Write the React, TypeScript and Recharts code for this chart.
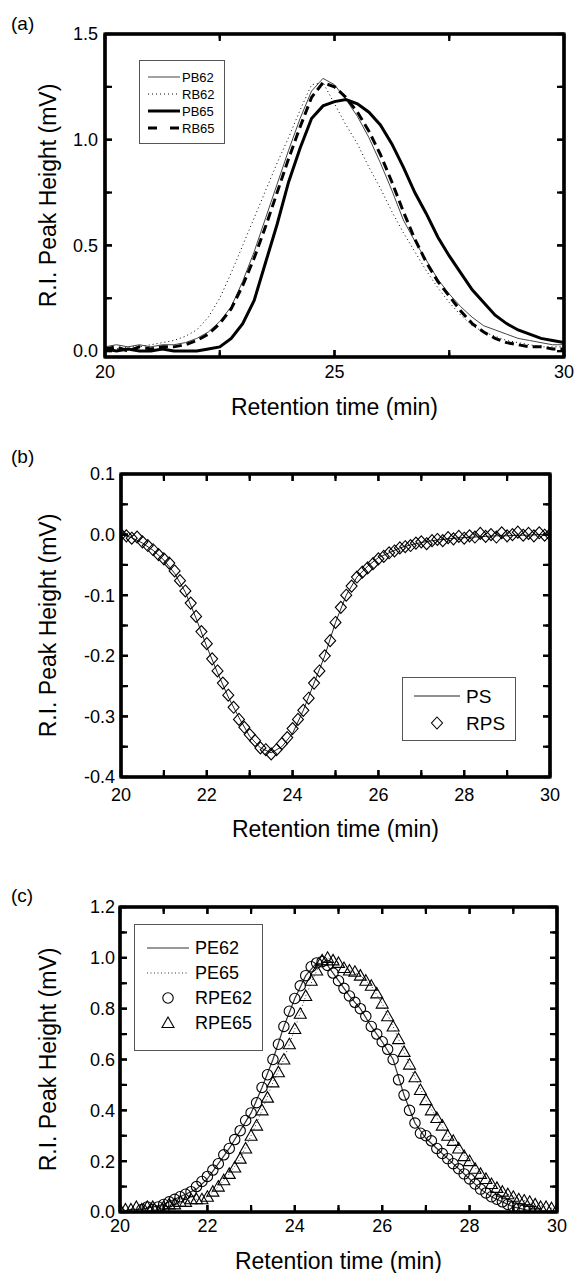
import { ComposedChart, Legend, Line, Scatter, XAxis, YAxis } from "recharts";

const FONT = '"Liberation Sans", Arial, Helvetica, sans-serif';

// retention time grids (min)
const timeQ = [
  20, 20.25, 20.5, 20.75, 21, 21.25, 21.5, 21.75,
  22, 22.25, 22.5, 22.75, 23, 23.25, 23.5, 23.75,
  24, 24.25, 24.5, 24.75, 25, 25.25, 25.5, 25.75,
  26, 26.25, 26.5, 26.75, 27, 27.25, 27.5, 27.75,
  28, 28.25, 28.5, 28.75, 29, 29.25, 29.5, 29.75,
  30,
];
const timeE = [
  20, 20.125, 20.25, 20.375, 20.5, 20.625, 20.75, 20.875,
  21, 21.125, 21.25, 21.375, 21.5, 21.625, 21.75, 21.875,
  22, 22.125, 22.25, 22.375, 22.5, 22.625, 22.75, 22.875,
  23, 23.125, 23.25, 23.375, 23.5, 23.625, 23.75, 23.875,
  24, 24.125, 24.25, 24.375, 24.5, 24.625, 24.75, 24.875,
  25, 25.125, 25.25, 25.375, 25.5, 25.625, 25.75, 25.875,
  26, 26.125, 26.25, 26.375, 26.5, 26.625, 26.75, 26.875,
  27, 27.125, 27.25, 27.375, 27.5, 27.625, 27.75, 27.875,
  28, 28.125, 28.25, 28.375, 28.5, 28.625, 28.75, 28.875,
  29, 29.125, 29.25, 29.375, 29.5, 29.625, 29.75, 29.875,
  30,
];

// (a) PB / RB
const pb62 = [
  0.02, 0.03, 0.02, 0.03, 0.02, 0.03, 0.03, 0.04,
  0.06, 0.09, 0.14, 0.21, 0.33, 0.47, 0.63, 0.79,
  0.95, 1.1, 1.23, 1.29, 1.26, 1.19, 1.11, 1.01,
  0.89, 0.76, 0.62, 0.52, 0.43, 0.34, 0.27, 0.21,
  0.16, 0.12, 0.1, 0.08, 0.06, 0.05, 0.04, 0.03,
  0.03,
];
const rb62 = [
  0.01, 0.01, 0.02, 0.02, 0.03, 0.04, 0.05, 0.07,
  0.1, 0.16, 0.25, 0.37, 0.5, 0.63, 0.76, 0.89,
  1.01, 1.14, 1.26, 1.27, 1.17, 1.07, 0.98, 0.87,
  0.77, 0.66, 0.56, 0.47, 0.38, 0.3, 0.23, 0.17,
  0.12, 0.09, 0.07, 0.05, 0.04, 0.03, 0.02, 0.02,
  0.02,
];
const pb65 = [
  0.01, 0.0, 0.01, 0.0, 0.0, 0.01, 0.0, 0.0,
  0.0, 0.01, 0.02, 0.06, 0.13, 0.24, 0.42, 0.6,
  0.8, 0.96, 1.1, 1.16, 1.18, 1.19, 1.17, 1.13,
  1.07, 0.98, 0.87, 0.75, 0.65, 0.54, 0.45, 0.37,
  0.29, 0.23, 0.17, 0.13, 0.1, 0.08, 0.06, 0.05,
  0.04,
];
const rb65 = [
  0.01, 0.02, 0.0, 0.02, 0.01, 0.02, 0.02, 0.03,
  0.05, 0.08, 0.13, 0.2, 0.31, 0.44, 0.59, 0.75,
  0.91, 1.06, 1.2, 1.27, 1.25, 1.2, 1.13, 1.04,
  0.93, 0.8, 0.66, 0.53, 0.42, 0.33, 0.26, 0.19,
  0.13, 0.09, 0.06, 0.04, 0.03, 0.02, 0.02, 0.01,
  0.01,
];

// (b) PS / RPS
const ps = [
  0.0, -0.005, -0.014, -0.026, -0.042, -0.064, -0.095, -0.138,
  -0.185, -0.228, -0.268, -0.302, -0.333, -0.352, -0.36, -0.35,
  -0.328, -0.29, -0.245, -0.2, -0.145, -0.1, -0.07, -0.052,
  -0.038, -0.03, -0.022, -0.017, -0.013, -0.01, -0.008, -0.006,
  -0.005, -0.004, -0.003, -0.002, -0.002, -0.001, -0.001, 0.0,
  0.0,
];
const rps = [
  0.0, -0.002, -0.006, -0.004, -0.012, -0.018, -0.025, -0.033,
  -0.04, -0.047, -0.06, -0.076, -0.093, -0.113, -0.135, -0.16,
  -0.18, -0.205, -0.225, -0.245, -0.265, -0.285, -0.305, -0.318,
  -0.33, -0.34, -0.352, -0.355, -0.362, -0.355, -0.345, -0.335,
  -0.32, -0.305, -0.29, -0.27, -0.245, -0.225, -0.2, -0.175,
  -0.145, -0.12, -0.1, -0.085, -0.07, -0.062, -0.055, -0.048,
  -0.04, -0.036, -0.03, -0.027, -0.022, -0.02, -0.018, -0.014,
  -0.012, -0.015, -0.01, -0.008, -0.01, -0.005, -0.007, -0.003,
  -0.006, -0.002, -0.004, 0.002, -0.003, 0.0, -0.004, 0.003,
  -0.002, 0.0, 0.004, -0.001, 0.002, -0.002, 0.003, -0.001,
  0.0,
];

// (c) PE / RPE
const pe62 = [
  0.0, 0.01, 0.01, 0.02, 0.03, 0.05, 0.07, 0.09,
  0.13, 0.19, 0.25, 0.32, 0.39, 0.49, 0.6, 0.73,
  0.84, 0.93, 0.98, 0.97, 0.91, 0.85, 0.8, 0.73,
  0.67, 0.6, 0.46, 0.35, 0.29, 0.25, 0.21, 0.17,
  0.13, 0.09, 0.06, 0.04, 0.02, 0.01, 0.0, 0.0,
  0.0,
];
const pe65 = [
  0.01, 0.01, 0.01, 0.02, 0.02, 0.03, 0.04, 0.05,
  0.06, 0.1, 0.15, 0.21, 0.3, 0.4, 0.51, 0.6,
  0.72, 0.85, 0.95, 1.0, 0.98, 0.95, 0.93, 0.89,
  0.82, 0.73, 0.63, 0.53, 0.44, 0.37, 0.3, 0.25,
  0.2, 0.15, 0.11, 0.08, 0.06, 0.045, 0.03, 0.02,
  0.01,
];
const rpe62 = [
  null, null, null, null, 0.01, 0.02, 0.01, 0.02,
  0.03, 0.04, 0.05, 0.06, 0.07, 0.08, 0.1, 0.12,
  0.14, 0.165, 0.19, 0.225, 0.25, 0.285, 0.32, 0.36,
  0.39, 0.43, 0.49, 0.54, 0.6, 0.66, 0.73, 0.79,
  0.84, 0.89, 0.93, 0.965, 0.98, 0.985, 0.97, 0.94,
  0.91, 0.88, 0.85, 0.825, 0.8, 0.77, 0.73, 0.7,
  0.67, 0.64, 0.6, 0.52, 0.46, 0.4, 0.35, 0.31,
  0.3, 0.28, 0.25, 0.23, 0.21, 0.19, 0.17, 0.15,
  0.13, 0.11, 0.09, 0.075, 0.06, 0.05, 0.04, 0.03,
  0.02, 0.015, 0.01, 0.01, 0.0, null, null, null,
  null,
];
const rpe65 = [
  0.01, 0.01, 0.01, 0.02, 0.01, 0.02, 0.02, 0.0,
  0.02, 0.03, 0.03, 0.04, 0.04, 0.05, 0.05, 0.05,
  0.06, 0.08, 0.1, 0.125, 0.15, 0.175, 0.21, 0.25,
  0.3, 0.34, 0.4, 0.45, 0.51, 0.55, 0.6, 0.66,
  0.72, 0.78, 0.85, 0.91, 0.95, 0.99, 1.0, 0.99,
  0.98, 0.96, 0.95, 0.945, 0.93, 0.91, 0.89, 0.86,
  0.82, 0.77, 0.73, 0.68, 0.63, 0.58, 0.53, 0.48,
  0.44, 0.4, 0.37, 0.34, 0.3, 0.28, 0.25, 0.22,
  0.2, 0.17, 0.15, 0.13, 0.11, 0.095, 0.08, 0.07,
  0.06, 0.05, 0.045, 0.04, 0.03, 0.02, 0.02, 0.015,
  0.01,
];

// ticks
const xTicksA = [20, 22.5, 25, 27.5, 30];
const xMajorA = [20, 25, 30];
const yTicksA = [0, 0.25, 0.5, 0.75, 1, 1.25, 1.5];
const yMajorA = [0, 0.5, 1, 1.5];
const xTicksBC = [20, 21, 22, 23, 24, 25, 26, 27, 28, 29, 30];
const xMajorBC = [20, 22, 24, 26, 28, 30];
const yTicksB = [-0.4, -0.35, -0.3, -0.25, -0.2, -0.15, -0.1, -0.05, 0, 0.05, 0.1];
const yMajorB = [-0.4, -0.3, -0.2, -0.1, 0, 0.1];
const yTicksC = [0, 0.1, 0.2, 0.3, 0.4, 0.5, 0.6, 0.7, 0.8, 0.9, 1, 1.1, 1.2];
const yMajorC = [0, 0.2, 0.4, 0.6, 0.8, 1, 1.2];

type Pt = { t: number; v: number };
const toRows = (time: number[], vals: (number | null)[]): Pt[] =>
  time.flatMap((t, i) => (vals[i] == null ? [] : [{ t, v: vals[i] as number }]));

const isMajor = (v: number, major: number[]) => major.some((m) => Math.abs(m - v) < 1e-6);
const fmtInt = (v: number) => String(Math.round(v));
const fmt1 = (v: number) => (Math.abs(v) < 1e-9 ? "0.0" : v.toFixed(1));

const X_DOMAIN: [number, number] = [20, 30];
const TICK_LEN = 7;
const FRAME = { stroke: "#000", strokeWidth: 3.2 };
const TICK = { stroke: "#000", strokeWidth: 2.2 };

function labelTick(side: "bottom" | "left", major: number[], fmt: (v: number) => string) {
  return (props: any) => {
    const { x, y, payload } = props;
    const v = Number(payload.value);
    if (!isMajor(v, major)) return <g />;
    if (side === "bottom") {
      return (
        <text x={x} y={y} dy="0.71em" textAnchor="middle" fontSize={18} fill="#000" fontFamily={FONT}>
          {fmt(v)}
        </text>
      );
    }
    return (
      <text x={x} y={y} dy="0.355em" textAnchor="end" fontSize={18} fill="#000" fontFamily={FONT}>
        {fmt(v)}
      </text>
    );
  };
}
const noLabel = () => <g />;

const yTitle = (cx: number, cy: number) => () => (
  <text
    x={cx}
    y={cy}
    dy="0.355em"
    transform={`rotate(-90 ${cx} ${cy})`}
    textAnchor="middle"
    fontSize={23}
    fill="#000"
    fontFamily={FONT}
  >
    R.I. Peak Height (mV)
  </text>
);
const xTitle = (cx: number, baseline: number) => () => (
  <text x={cx} y={baseline} textAnchor="middle" fontSize={23} fill="#000" fontFamily={FONT}>
    Retention time (min)
  </text>
);

// marker shapes
const diamond = (p: any) => (
  <path
    d={`M${p.cx},${p.cy - 6}L${p.cx + 5.5},${p.cy}L${p.cx},${p.cy + 6}L${p.cx - 5.5},${p.cy}Z`}
    fill="none"
    stroke="#000"
    strokeWidth={1.1}
  />
);
const circle = (p: any) => <circle cx={p.cx} cy={p.cy} r={5.2} fill="none" stroke="#000" strokeWidth={1.1} />;
const triangle = (p: any) => (
  <path
    d={`M${p.cx},${p.cy - 6}L${p.cx + 6},${p.cy + 4.5}L${p.cx - 6},${p.cy + 4.5}Z`}
    fill="none"
    stroke="#000"
    strokeWidth={1.1}
  />
);

type LStyle = { name: string; stroke?: string; width?: number; dash?: string; mark?: (p: any) => JSX.Element };
const legendA: LStyle[] = [
  { name: "PB62", stroke: "#444", width: 1 },
  { name: "RB62", stroke: "#000", width: 1, dash: "1 3" },
  { name: "PB65", stroke: "#000", width: 3 },
  { name: "RB65", stroke: "#000", width: 3.2, dash: "9 13" },
];
const legendB: LStyle[] = [
  { name: "PS", stroke: "#222", width: 1 },
  { name: "RPS", mark: diamond },
];
const legendC: LStyle[] = [
  { name: "PE62", stroke: "#333", width: 1.2 },
  { name: "PE65", stroke: "#333", width: 1, dash: "1 2.5" },
  { name: "RPE62", mark: circle },
  { name: "RPE65", mark: triangle },
];

function LegendBox(props: {
  items: LStyle[];
  w: number;
  h: number;
  first: number;
  step: number;
  lineX: [number, number];
  textX: number;
  fontSize: number;
}) {
  const { items, w, h, first, step, lineX, textX, fontSize } = props;
  return (
    <svg width={w} height={h} style={{ display: "block" }}>
      <rect x={0.5} y={0.5} width={w - 1} height={h - 1} fill="#fff" stroke="#555" strokeWidth={1} />
      {items.map((it, i) => {
        const cy = first + i * step;
        const mid = (lineX[0] + lineX[1]) / 2;
        return (
          <g key={it.name}>
            {it.mark ? (
              it.mark({ cx: mid, cy })
            ) : (
              <line
                x1={lineX[0]}
                x2={lineX[1]}
                y1={cy}
                y2={cy}
                stroke={it.stroke}
                strokeWidth={it.width}
                strokeDasharray={it.dash}
              />
            )}
            <text x={textX} y={cy} dy="0.355em" fontSize={fontSize} fill="#000" fontFamily={FONT}>
              {it.name}
            </text>
          </g>
        );
      })}
    </svg>
  );
}

type Margin = { top: number; right: number; bottom: number; left: number };
const TOP_AXIS_H = 20;
const RIGHT_AXIS_W = 10;
const BOTTOM_AXIS_H = 30;
const LEFT_AXIS_W = 60;

// plot-box frame with inward ticks on all four sides, laid over the chart
function FrameOverlay(p: {
  width: number;
  height: number;
  margin: Margin;
  xTicks: number[];
  xMajor: number[];
  yTicks: number[];
  yMajor: number[];
  yDomain: [number, number];
}) {
  const left = p.margin.left + LEFT_AXIS_W;
  const right = p.width - p.margin.right - RIGHT_AXIS_W;
  const top = p.margin.top + TOP_AXIS_H;
  const bottom = p.height - p.margin.bottom - BOTTOM_AXIS_H;
  const sx = (t: number) => left + ((t - X_DOMAIN[0]) / (X_DOMAIN[1] - X_DOMAIN[0])) * (right - left);
  const sy = (v: number) => bottom - ((v - p.yDomain[0]) / (p.yDomain[1] - p.yDomain[0])) * (bottom - top);
  return (
    <svg
      width={p.width}
      height={p.height}
      style={{ position: "absolute", left: 0, top: 0, pointerEvents: "none" }}
    >
      {p.xTicks.map((t) => {
        const len = isMajor(t, p.xMajor) ? 7 : 4.5;
        const x = sx(t);
        return (
          <g key={`x${t}`}>
            <line x1={x} x2={x} y1={bottom} y2={bottom - len} {...TICK} />
            <line x1={x} x2={x} y1={top} y2={top + len} {...TICK} />
          </g>
        );
      })}
      {p.yTicks.map((v) => {
        const len = isMajor(v, p.yMajor) ? 7 : 4.5;
        const y = sy(v);
        return (
          <g key={`y${v}`}>
            <line x1={left} x2={left + len} y1={y} y2={y} {...TICK} />
            <line x1={right} x2={right - len} y1={y} y2={y} {...TICK} />
          </g>
        );
      })}
      <rect x={left} y={top} width={right - left} height={bottom - top} fill="none" {...FRAME} />
    </svg>
  );
}

type PanelProps = {
  letter: string;
  letterTop: number;
  height: number;
  margin: Margin;
  xTicks: number[];
  xMajor: number[];
  yTicks: number[];
  yMajor: number[];
  yDomain: [number, number];
  xGap: number;
  yGap: number;
  yTitleAt: [number, number];
  xTitleAt: [number, number];
  children: React.ReactNode;
};

function Panel(p: PanelProps) {
  return (
    <div style={{ position: "relative", width: 576, height: p.height }}>
      <div
        style={{
          position: "absolute",
          left: 11,
          top: p.letterTop,
          fontSize: 19,
          lineHeight: "19px",
          fontFamily: FONT,
          color: "#000",
        }}
      >
        {p.letter}
      </div>
      <ComposedChart width={576} height={p.height} margin={p.margin}>
        <XAxis
          type="number"
          dataKey="t"
          domain={X_DOMAIN}
          ticks={p.xTicks}
          interval={0}
          allowDataOverflow
          height={BOTTOM_AXIS_H}
          tickSize={-TICK_LEN}
          tickMargin={p.xGap + TICK_LEN}
          tickLine={TICK}
          axisLine={FRAME}
          tick={labelTick("bottom", p.xMajor, fmtInt)}
          label={xTitle(p.xTitleAt[0], p.xTitleAt[1])}
        />
        <XAxis
          xAxisId="top"
          orientation="top"
          type="number"
          dataKey="t"
          domain={X_DOMAIN}
          ticks={p.xTicks}
          interval={0}
          allowDataOverflow
          height={TOP_AXIS_H}
          tickSize={-TICK_LEN}
          tickMargin={0}
          tickLine={TICK}
          axisLine={FRAME}
          tick={noLabel}
        />
        <YAxis
          type="number"
          domain={p.yDomain}
          ticks={p.yTicks}
          interval={0}
          allowDataOverflow
          width={LEFT_AXIS_W}
          tickSize={-TICK_LEN}
          tickMargin={p.yGap + TICK_LEN}
          tickLine={TICK}
          axisLine={FRAME}
          tick={labelTick("left", p.yMajor, fmt1)}
          label={yTitle(p.yTitleAt[0], p.yTitleAt[1])}
        />
        <YAxis
          yAxisId="right"
          orientation="right"
          type="number"
          domain={p.yDomain}
          ticks={p.yTicks}
          interval={0}
          allowDataOverflow
          width={RIGHT_AXIS_W}
          tickSize={-TICK_LEN}
          tickMargin={0}
          tickLine={TICK}
          axisLine={FRAME}
          tick={noLabel}
        />
        {p.children}
      </ComposedChart>
      <FrameOverlay
        width={576}
        height={p.height}
        margin={p.margin}
        xTicks={p.xTicks}
        xMajor={p.xMajor}
        yTicks={p.yTicks}
        yMajor={p.yMajor}
        yDomain={p.yDomain}
      />
    </div>
  );
}

export default function App() {
  return (
    <div
      style={{
        position: "absolute",
        left: 0,
        top: 0,
        width: 576,
        height: 1273,
        background: "#fff",
        fontFamily: FONT,
      }}
    >
      <Panel
        letter="(a)"
        letterTop={14}
        height={420}
        margin={{ top: 14, right: 2, bottom: 33, left: 45 }}
        xTicks={xTicksA}
        xMajor={xMajorA}
        yTicks={yTicksA}
        yMajor={yMajorA}
        yDomain={[-0.028, 1.5]}
        xGap={8}
        yGap={7}
        yTitleAt={[48, 195.5]}
        xTitleAt={[334.5, 414.5]}
      >
        <Line data={toRows(timeQ, rb62)} dataKey="v" stroke="#000" strokeWidth={1} strokeDasharray="1 3" dot={false} isAnimationActive={false} />
        <Line data={toRows(timeQ, pb62)} dataKey="v" stroke="#444" strokeWidth={1} dot={false} isAnimationActive={false} />
        <Line data={toRows(timeQ, rb65)} dataKey="v" stroke="#000" strokeWidth={3} strokeDasharray="9 5" dot={false} isAnimationActive={false} />
        <Line data={toRows(timeQ, pb65)} dataKey="v" stroke="#000" strokeWidth={3} dot={false} isAnimationActive={false} />
        <Legend
          layout="vertical"
          align="center"
          verticalAlign="middle"
          wrapperStyle={{ left: 139, top: 60, width: 86, height: 84 }}
          content={() => (
            <LegendBox items={legendA} w={86} h={84} first={17} step={17} lineX={[9, 41]} textX={43} fontSize={13} />
          )}
        />
      </Panel>

      <Panel
        letter="(b)"
        letterTop={27}
        height={430}
        margin={{ top: 34, right: 16, bottom: 43, left: 61 }}
        xTicks={xTicksBC}
        xMajor={xMajorBC}
        yTicks={yTicksB}
        yMajor={yMajorB}
        yDomain={[-0.4, 0.1]}
        xGap={11}
        yGap={6}
        yTitleAt={[48, 205.5]}
        xTitleAt={[335.5, 416.5]}
      >
        <Line data={toRows(timeQ, ps)} dataKey="v" stroke="#222" strokeWidth={1} dot={false} isAnimationActive={false} />
        <Scatter data={toRows(timeE, rps)} dataKey="v" shape={diamond} isAnimationActive={false} />
        <Legend
          layout="vertical"
          align="center"
          verticalAlign="middle"
          wrapperStyle={{ left: 402, top: 257, width: 114, height: 64 }}
          content={() => (
            <LegendBox items={legendB} w={114} h={64} first={19} step={27} lineX={[12, 58]} textX={64} fontSize={19} />
          )}
        />
      </Panel>

      <Panel
        letter="(c)"
        letterTop={36}
        height={423}
        margin={{ top: 37, right: 9, bottom: 31, left: 60 }}
        xTicks={xTicksBC}
        xMajor={xMajorBC}
        yTicks={yTicksC}
        yMajor={yMajorC}
        yDomain={[0, 1.2]}
        xGap={7}
        yGap={5}
        yTitleAt={[48, 209.5]}
        xTitleAt={[338.5, 419]}
      >
        <Line data={toRows(timeQ, pe62)} dataKey="v" stroke="#333" strokeWidth={1.2} dot={false} isAnimationActive={false} />
        <Line data={toRows(timeQ, pe65)} dataKey="v" stroke="#333" strokeWidth={1} strokeDasharray="1 2.5" dot={false} isAnimationActive={false} />
        <Scatter data={toRows(timeE, rpe62)} dataKey="v" shape={circle} isAnimationActive={false} />
        <Scatter data={toRows(timeE, rpe65)} dataKey="v" shape={triangle} isAnimationActive={false} />
        <Legend
          layout="vertical"
          align="center"
          verticalAlign="middle"
          wrapperStyle={{ left: 134, top: 74, width: 129, height: 127 }}
          content={() => (
            <LegendBox items={legendC} w={129} h={127} first={24} step={25} lineX={[13, 55]} textX={61} fontSize={18} />
          )}
        />
      </Panel>
    </div>
  );
}
